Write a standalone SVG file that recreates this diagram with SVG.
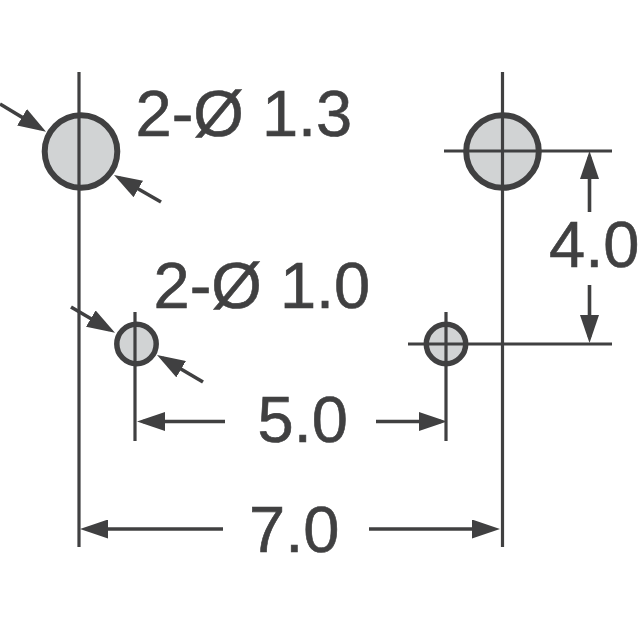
<svg xmlns="http://www.w3.org/2000/svg" width="640" height="640" viewBox="0 0 640 640">
<style>
.hole{fill:#d1d3d4;stroke:#404041}
.big{stroke-width:6}
.small{stroke-width:5.5}
.ax{fill:none;stroke:#404041;stroke-width:3.2}
.dim{fill:none;stroke:#404041;stroke-width:3.6;marker-end:url(#arrow)}
text{font-family:"Liberation Sans",Arial,sans-serif;font-size:65px;fill:#404041;stroke:#404041;stroke-width:.6}
</style>
<defs>
<marker id="arrow" markerUnits="userSpaceOnUse" viewBox="0 0 28 19" refX="22" refY="9.5" markerWidth="28" markerHeight="19" orient="auto">
<path d="M0 0L28 9.5L0 19z" fill="#404041"/>
</marker>
</defs>
<rect width="640" height="640" fill="#fff"/>
<g id="hole-big-left"><circle class="hole big" cx="81" cy="151.5" r="36.3"/></g>
<g id="hole-big-right"><circle class="hole big" cx="502.5" cy="151.5" r="36.3"/></g>
<g id="hole-small-left"><circle class="hole small" cx="136.5" cy="344" r="19.7"/></g>
<g id="hole-small-right"><circle class="hole small" cx="446" cy="344" r="19.7"/></g>
<g id="connectors">
<path class="ax" d="M79 72V547M135 312V441M502.5 72V547M446 312V441M444 151H612M408 344H612"/>
<path class="dim" d="M0 104L40.9 128.6"/>
<path class="dim" d="M161 202L119.2 178"/>
<path class="dim" d="M71 307L109.8 329.7"/>
<path class="dim" d="M203 382L162.2 358"/>
<path class="dim" d="M589.5 212V157"/>
<path class="dim" d="M589.5 285V337"/>
<path class="dim" d="M225 421.5H143"/>
<path class="dim" d="M376 421.5H441"/>
<path class="dim" d="M223 529H86"/>
<path class="dim" d="M369 529H494"/>
</g>
<g id="labels">
<text x="135.5" y="135.5">2-Ø 1.3</text>
<text x="153.5" y="308">2-Ø 1.0</text>
<text x="549" y="266.5">4.0</text>
<text x="257.5" y="441.5">5.0</text>
<text x="249" y="552">7.0</text>
</g>
</svg>
